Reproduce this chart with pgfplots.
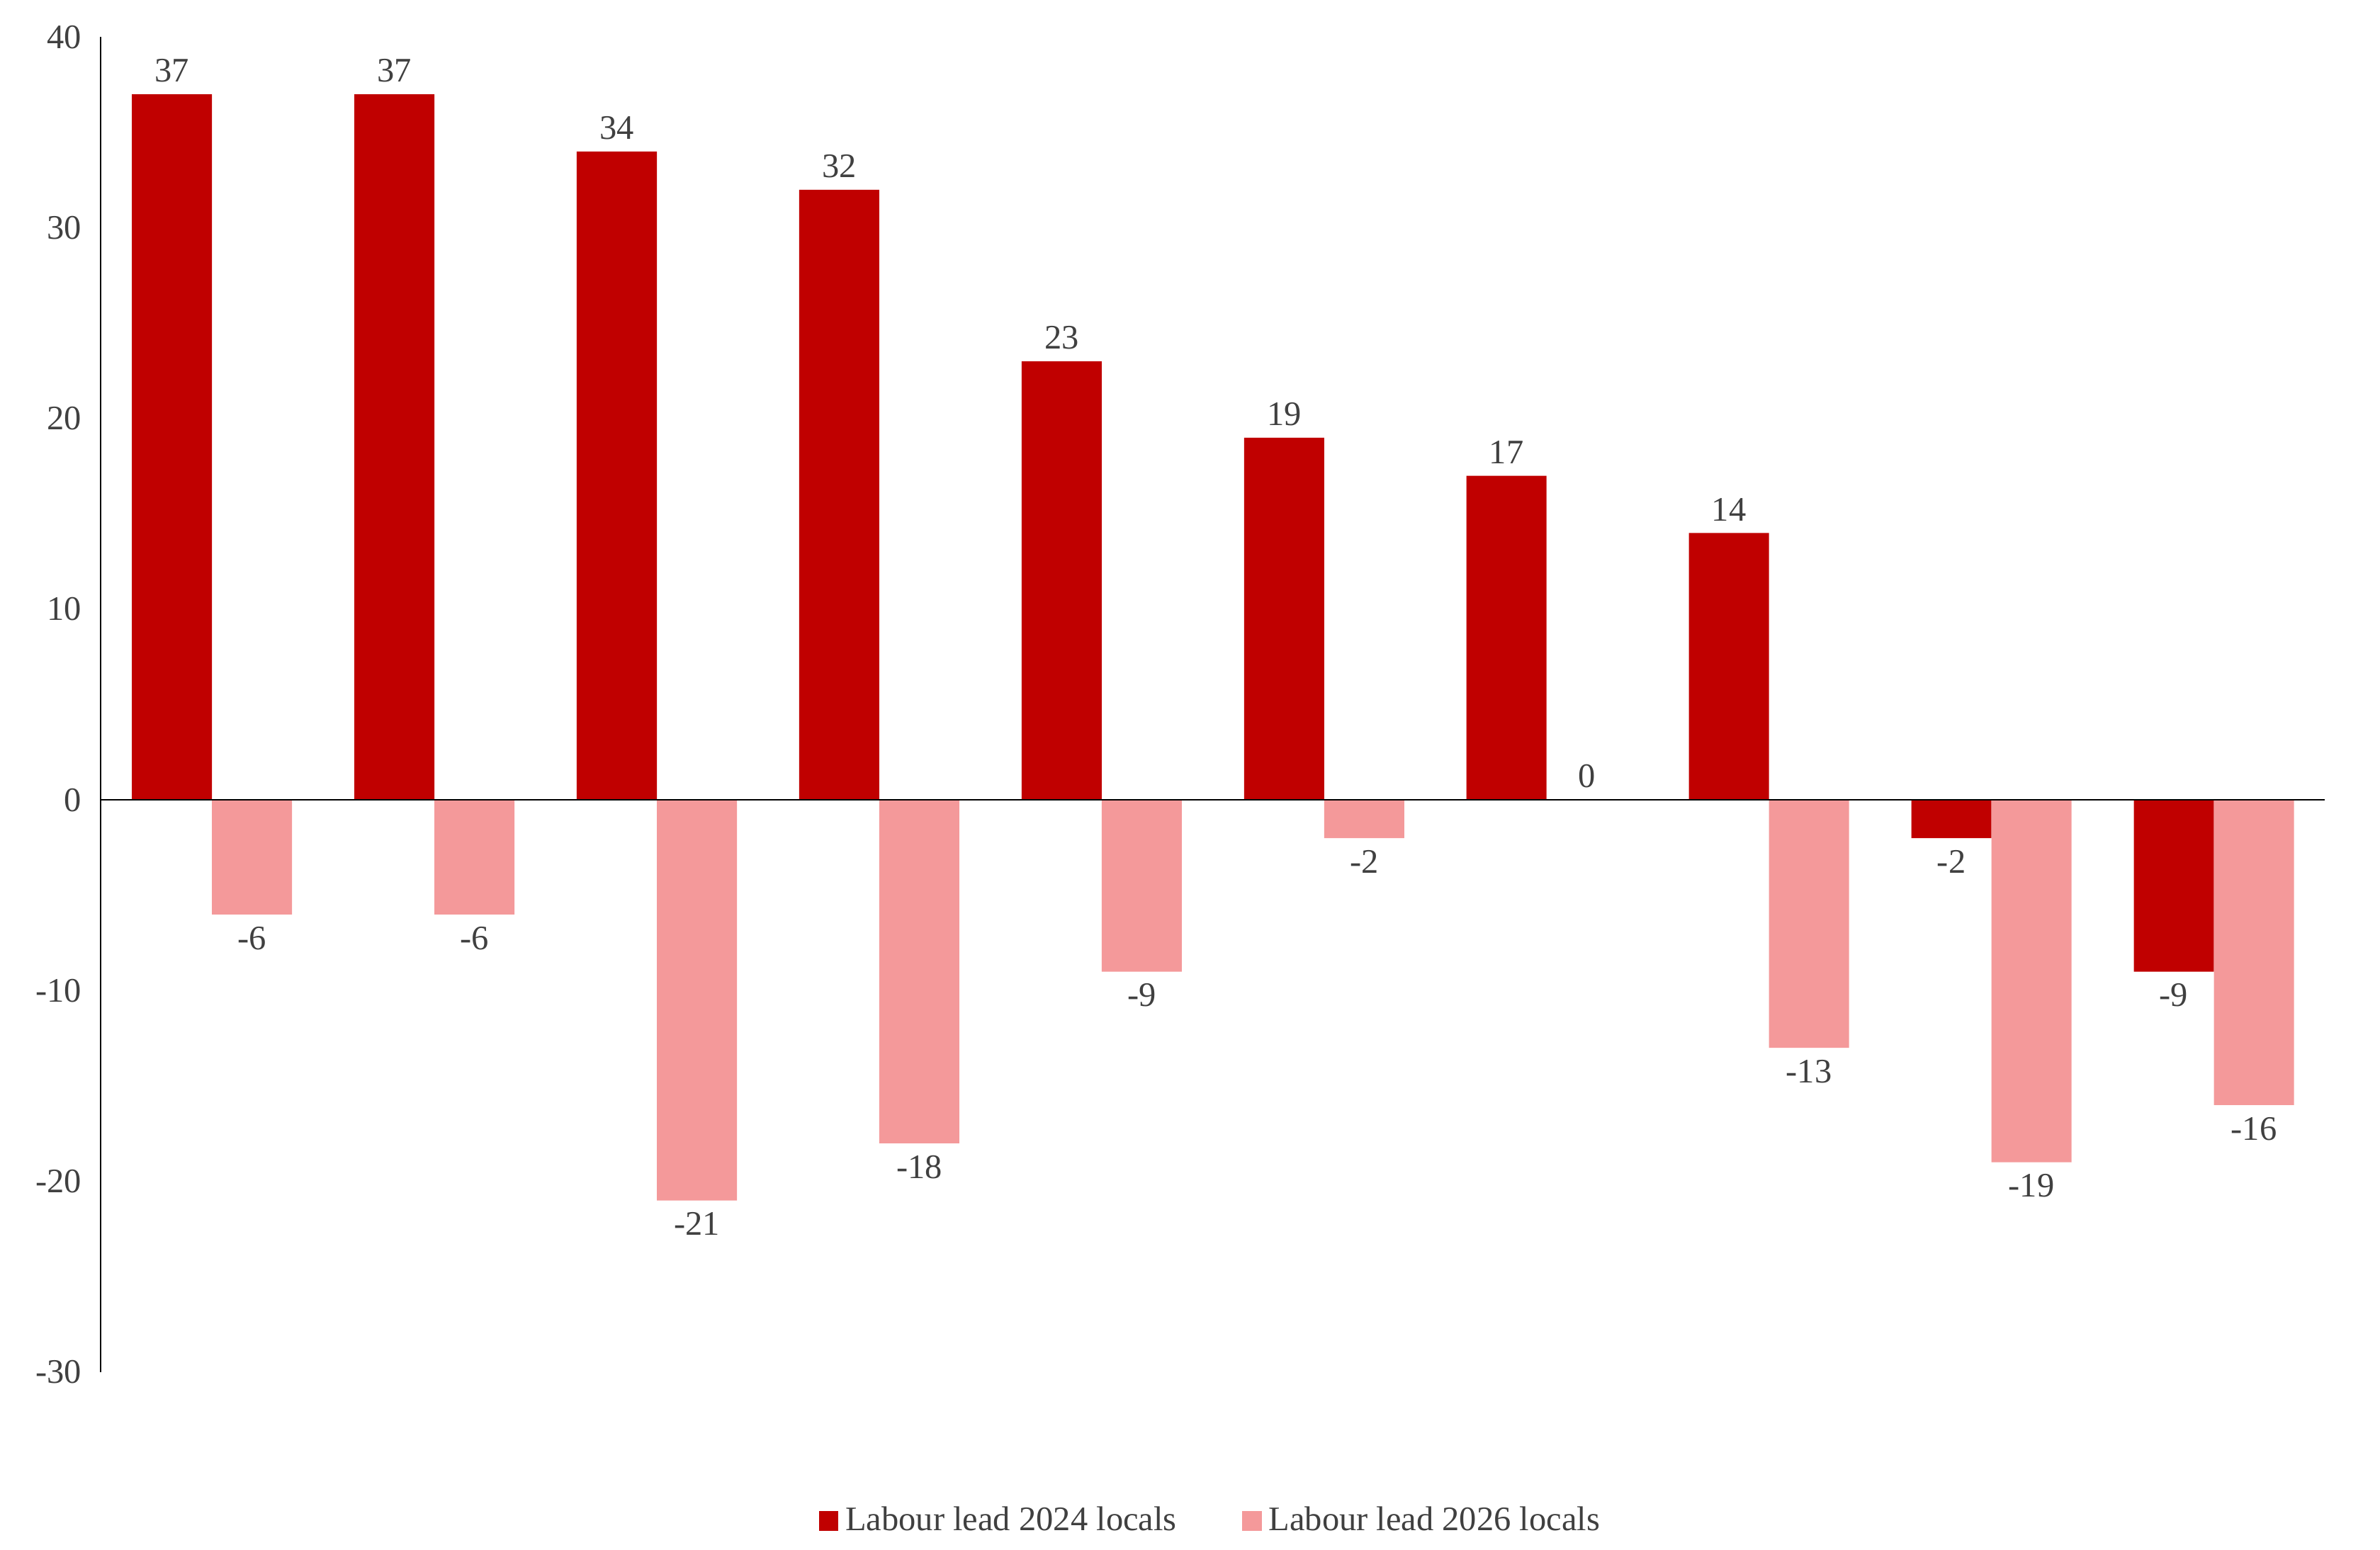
\documentclass[border=0pt]{standalone}
\usepackage{pgfplots}
\pgfplotsset{compat=1.18}
\usepackage{fontspec}
\setmainfont{Liberation Serif}
\definecolor{darkred}{HTML}{C00000}
\definecolor{lightred}{HTML}{F4999A}
\definecolor{txt}{HTML}{404040}
\begin{document}
\begin{tikzpicture}[x=1cm,y=1cm]
\path (-1.03,-1.66) rectangle (22.97,14.03);
\begin{axis}[at={(0,0)},anchor=south west,scale only axis,
 width=22.74cm,height=13.65cm,
 xmin=-0.5,xmax=9.5,ymin=-30,ymax=40,
 ytick={-30,-20,...,40},
 xtick={0,...,9},
 xticklabels={Manchester,Salford,Wigan,Tameside,Rochdale,Bury,Trafford,Bolton,Stockport,Oldham},
 axis y line=left, axis x line=none,
 y axis line style={-,black},
 x tick label style={yshift=-4pt},
 tick style={draw=none},
 ymajorgrids=false,
 ybar, bar width=0.36,
 font=\fontsize{10}{12}\selectfont\color{txt},
 tick label style={font=\fontsize{10}{12}\selectfont\color{txt}},
 /pgf/number format/assume math mode=true,
 nodes near coords, nodes near coords align={vertical},
 every node near coord/.append style={font=\fontsize{10}{12}\selectfont\color{txt}},
 legend style={at={(0.5,-0.09)},anchor=north,draw=none,legend columns=2,
   font=\fontsize{10}{12}\selectfont\color{txt},
   /tikz/every even column/.append style={column sep=0.6cm}},
 legend image code/.code={\fill[#1] (0cm,-0.1cm) rectangle (0.2cm,0.1cm);},
 clip=false]
\addplot[fill=darkred,draw=none,bar shift=-0.18] coordinates {(0,37)(1,37)(2,34)(3,32)(4,23)(5,19)(6,17)(7,14)(8,-2)(9,-9)};
\addplot[fill=lightred,draw=none,bar shift=0.18] coordinates {(0,-6)(1,-6)(2,-21)(3,-18)(4,-9)(5,-2)(6,0)(7,-13)(8,-19)(9,-16)};
\legend{Labour lead 2024 locals,Labour lead 2026 locals}
\addplot[black,sharp plot,no marks,nodes near coords={},forget plot] coordinates {(-0.5,0)(9.5,0)};
\end{axis}
\end{tikzpicture}
\end{document}
